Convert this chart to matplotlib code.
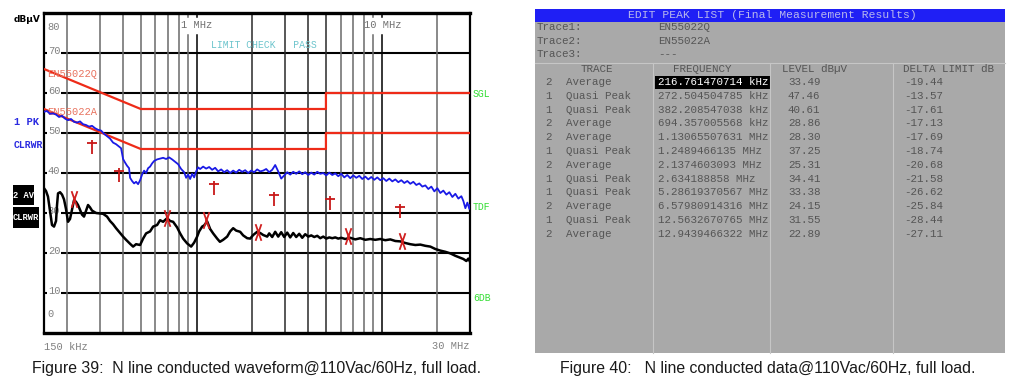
import matplotlib.pyplot as plt
from matplotlib.path import Path
from matplotlib.patches import Rectangle

# limit lines (EN55022 class B), frequency in MHz, level in dBuV
limit_q_freq = [0.15, 0.5, 5.0, 5.0, 30.0]
limit_q_level = [66, 56, 56, 60, 60]
limit_a_freq = [0.15, 0.5, 5.0, 5.0, 30.0]
limit_a_level = [56, 46, 46, 50, 50]

# trace 1: peak detector (blue)
pk_freq = [0.1500, 0.1557, 0.1616, 0.1678, 0.1742, 0.1808, 0.1877, 0.1948, 0.2022, 0.2099,
           0.2179, 0.2262, 0.2348, 0.2437, 0.2530, 0.2626, 0.2726, 0.2830, 0.2938, 0.3050,
           0.3166, 0.3286, 0.3411, 0.3541, 0.3676, 0.3816,
           0.3912, 0.4011, 0.4112, 0.4216, 0.4321, 0.4376, 0.4486, 0.4599, 0.4715, 0.4834,
           0.4956, 0.5081, 0.5209, 0.5340, 0.5475, 0.5613, 0.5755, 0.5900, 0.6125, 0.6357,
           0.6599, 0.6850, 0.7111, 0.7381, 0.7662, 0.7953, 0.8256, 0.8571, 0.8787, 0.9008,
           0.9235, 0.9468, 0.9707, 0.9952, 1.0202,
           1.0459, 1.0857, 1.1270, 1.1699, 1.2144, 1.2606, 1.3086, 1.3584, 1.4101, 1.4637,
           1.5194, 1.5772, 1.6372, 1.6995, 1.7642, 1.8313, 1.9010, 1.9733, 2.0484, 2.1264,
           2.2073, 2.2913, 2.3785, 2.4690, 2.5629, 2.6604, 2.7617, 2.8668, 2.9759, 3.0891,
           3.2066, 3.3286, 3.4553, 3.5867, 3.7232, 3.8649, 4.0119, 4.1646, 4.3230, 4.4875,
           4.6583, 4.8355, 5.0195, 5.2105, 5.4087, 5.6145,
           5.8281, 6.0499, 6.2801, 6.5190, 6.7671, 7.0245, 7.2918, 7.5693, 7.8573, 8.1562,
           8.4666, 8.7887, 9.1231, 9.4703, 9.8306, 10.205, 10.593, 10.996, 11.414, 11.849,
           12.299, 12.767, 13.253, 13.757, 14.281, 14.824, 15.388, 15.974, 16.582, 17.213,
           17.867, 18.547, 19.253, 19.985, 20.746, 21.535, 22.355, 23.205, 24.088, 25.005,
           25.956, 26.944,
           27.62, 28.32, 29.03, 29.76, 30.0]
pk_level = [55.3, 55.5, 54.8, 54.9, 54.6, 54.0, 54.3, 53.6, 53.2, 53.5,
            52.8, 52.6, 52.9, 52.2, 52.0, 51.6, 51.8, 51.2, 50.8, 50.6,
            49.8, 49.2, 48.6, 47.6, 47.2, 46.6,
            46.2, 43.5, 42.6, 41.8, 41.2, 38.8, 38.0, 37.4, 37.8, 37.2,
            38.2, 39.6, 40.6, 40.0, 41.2, 41.6, 42.4, 43.0, 43.4, 43.6,
            43.8, 43.5, 43.9, 43.4, 42.8, 42.2, 41.0, 40.2, 38.8, 39.6,
            38.5, 39.8, 38.9, 40.4, 41.4,
            41.0, 41.6, 41.1, 41.5, 40.8, 41.3, 40.4, 40.9, 40.2, 40.7,
            40.0, 40.6, 40.1, 40.8, 40.3, 40.7, 40.0, 40.6, 40.2, 40.9,
            40.4, 40.6, 41.0, 40.2, 40.8, 42.0, 40.4, 38.6, 39.4, 40.2,
            39.6, 40.3, 39.8, 40.4, 39.7, 40.2, 39.5, 40.1, 39.6, 40.3,
            39.8, 40.0, 39.4, 40.1, 39.5, 39.9,
            39.2, 39.8, 38.9, 39.5, 38.7, 39.4, 38.8, 39.3, 38.5, 39.1,
            38.4, 39.0, 38.3, 38.9, 38.2, 38.7, 38.0, 38.6, 37.9, 38.4,
            37.7, 38.2, 37.5, 38.0, 37.3, 37.8, 37.0, 37.4, 36.6, 36.9,
            36.0, 36.6, 35.4, 36.2, 35.0, 35.6, 34.6, 35.2, 34.0, 34.8,
            33.6, 34.2,
            33.0, 31.2, 32.6, 31.0, 32.0]

# trace 2: average detector (black)
av_freq = [0.1500, 0.1538, 0.1576, 0.1616, 0.1657, 0.1699, 0.1742, 0.1764, 0.1786, 0.1831,
           0.1877, 0.1924, 0.1972, 0.2022, 0.2073, 0.2125, 0.2179, 0.2234, 0.2290, 0.2348,
           0.2407, 0.2467, 0.2530, 0.2594, 0.2659, 0.2726, 0.2795, 0.2865, 0.3012, 0.3127,
           0.3286, 0.3411, 0.3541, 0.3676, 0.3864, 0.4011, 0.4163, 0.4376, 0.4543, 0.4715,
           0.4956, 0.5145, 0.5340, 0.5613, 0.5827, 0.6125, 0.6357, 0.6599, 0.6936, 0.7200,
           0.7474, 0.7855, 0.8154, 0.8465, 0.8897, 0.9351, 0.9707, 1.0076, 1.0329, 1.0723,
           1.0993, 1.1411, 1.1846, 1.2296, 1.2924, 1.3375, 1.3926, 1.4637, 1.5194, 1.5772,
           1.6372, 1.7207, 1.7862, 1.8775, 1.9489, 2.0230, 2.1264, 2.2073, 2.2913, 2.4082,
           2.4690, 2.5629, 2.6604, 2.7617, 2.8668, 2.9759, 3.0891, 3.2066, 3.3286, 3.4553,
           3.5867, 3.7232, 3.8649, 4.0119, 4.1646, 4.3230, 4.4875, 4.6583, 4.8355, 5.0195,
           5.2105, 5.4087, 5.6145, 5.8281, 6.0499, 6.3567, 6.7671, 7.2015, 7.6641, 8.1562,
           8.680, 9.2373, 9.8306, 10.462, 11.133, 11.849, 12.609, 13.419, 14.281, 15.198,
           16.174, 17.213, 18.317, 19.494, 20.746, 22.078, 23.495, 25.005, 26.611, 27.62,
           28.67, 29.39, 30.0]
av_level = [36.2, 35.5, 34.1, 30.5, 27.0, 26.6, 28.0, 32.0, 34.9, 35.2,
            34.6, 33.4, 31.0, 27.8, 28.5, 30.8, 33.2, 32.8, 32.0, 30.8,
            29.6, 29.1, 30.6, 32.0, 31.4, 30.6, 30.3, 30.0, 29.9, 29.8,
            29.1, 28.0, 27.2, 26.2, 25.0, 24.1, 23.3, 22.3, 21.6, 22.2,
            22.0, 23.6, 24.9, 25.4, 26.6, 27.0, 28.2, 27.8, 28.7, 28.0,
            27.8, 26.4, 24.9, 23.6, 22.4, 21.6, 22.6, 24.1, 25.4, 26.6,
            26.9, 27.9, 26.0, 24.9, 23.6, 22.8, 23.3, 24.1, 25.4, 26.2,
            25.6, 25.3, 24.4, 23.7, 23.6, 24.5, 25.3, 25.0, 24.5, 24.1,
            24.9, 24.0, 25.3, 24.1, 25.2, 24.0, 25.1, 23.9, 25.0, 24.0,
            24.8, 23.8, 24.7, 24.1, 24.4, 24.0, 24.3, 23.7, 24.1, 23.6,
            23.9, 23.7, 23.9, 23.6, 23.8, 23.5, 23.8, 23.4, 23.7, 23.3,
            23.5, 23.3, 23.5, 23.2, 23.4, 23.0, 22.9, 22.5, 22.2, 22.0,
            22.1, 21.8, 21.6, 21.0, 20.6, 20.3, 19.9, 19.3, 18.8, 18.5,
            18.0, 18.6, 17.8]

# peak list (right-hand table)
peak_trace = [2, 1, 1, 2, 2, 1, 2, 1, 1, 2, 1, 2]
peak_detector = ['Average', 'Quasi Peak', 'Quasi Peak', 'Average', 'Average', 'Quasi Peak',
                 'Average', 'Quasi Peak', 'Quasi Peak', 'Average', 'Quasi Peak', 'Average']
peak_freq = ['216.761470714 kHz', '272.504504785 kHz', '382.208547038 kHz', '694.357005568 kHz',
             '1.13065507631 MHz', '1.2489466135 MHz', '2.1374603093 MHz', '2.634188858 MHz',
             '5.28619370567 MHz', '6.57980914316 MHz', '12.5632670765 MHz', '12.9439466322 MHz']
peak_level = [33.49, 47.46, 40.61, 28.86, 28.30, 37.25, 25.31, 34.41, 33.38, 24.15, 31.55, 22.89]
peak_delta = [-19.44, -13.57, -17.61, -17.13, -17.69, -18.74, -20.68, -21.58, -26.62, -25.84, -28.44, -27.11]

grid_freq = [0.2, 0.3, 0.4, 0.5, 0.6, 0.7, 0.8, 0.9, 1, 2, 3, 4, 5, 6, 7, 8, 9, 10, 20]
grid_level = [10, 20, 30, 40, 50, 60, 70]


def to_mhz(s):
    val, unit = s.split()
    return float(val) / 1000 if unit == 'kHz' else float(val)


MONO = 'Liberation Mono'
W, H = 1009, 387
fig = plt.figure(figsize=(W / 100, H / 100), dpi=100)

# overlay in pixel coordinates for side labels, table and captions
ov = fig.add_axes([0, 0, 1, 1])
ov.set_xlim(0, W)
ov.set_ylim(H, 0)
ov.axis('off')

ax = fig.add_axes([44 / W, 1 - 333 / H, 426 / W, 320 / H])
ax.set_xscale('log')
ax.set_xlim(0.15, 30)
ax.set_ylim(0, 80)
ax.tick_params(which='both', length=0, labelbottom=False, labelleft=False)
for side in ['top', 'bottom']:
    ax.spines[side].set_linewidth(2.4)
for side in ['left', 'right']:
    ax.spines[side].set_linewidth(1.6)

for v in grid_level:
    ax.axhline(v, color='black', lw=1.5, zorder=1)
for f in grid_freq:
    c = 'black' if f in (1, 10) else ('#2a2a2a' if 2 <= f <= 5 else '#6a6a6a')
    if f in (0.9, 1, 9, 10):
        # gap for the "1 MHz" / "10 MHz" labels
        ax.axvline(f, ymax=74.5 / 80, color=c, lw=1.1, zorder=1)
        ax.axvline(f, ymin=79 / 80, color=c, lw=1.1, zorder=1)
    else:
        ax.axvline(f, color=c, lw=1.1, zorder=1)

for v in grid_level:
    ax.text(0.009, v + 0.4, str(v), transform=ax.get_yaxis_transform(), ha='left', va='center',
            fontsize=7.5, family=MONO, color='#808080', zorder=2,
            bbox=dict(fc='white', ec='none', pad=0.6))
ax.text(0.009, 76.6, '80', transform=ax.get_yaxis_transform(), ha='left', va='center',
        fontsize=7.5, family=MONO, color='#808080')
ax.text(0.009, 4.75, '0', transform=ax.get_yaxis_transform(), ha='left', va='center',
        fontsize=7.5, family=MONO, color='#808080')
ax.text(1.0, 77, '1 MHz', ha='center', va='center', fontsize=7.5, family=MONO, color='#707070')
ax.text(10.1, 77, '10 MHz', ha='center', va='center', fontsize=7.5, family=MONO, color='#707070')
ax.text(1.19, 72, 'LIMIT CHECK   PASS', ha='left', va='center', fontsize=7, family=MONO,
        color='#6cc4cc')

ax.plot(limit_q_freq, limit_q_level, color='#ee2b18', lw=1.6, zorder=3)
ax.plot(limit_a_freq, limit_a_level, color='#ee2b18', lw=1.6, zorder=3)
ax.text(0.156, 64.8, 'EN55022Q', fontsize=7.5, family=MONO, color='#e8735f', va='center', zorder=3)
ax.text(0.156, 55.2, 'EN55022A', fontsize=7.5, family=MONO, color='#e8735f', va='center', zorder=3)

ax.plot(pk_freq, pk_level, color='#1a1ae6', lw=1.3, zorder=4)
ax.plot(av_freq, av_level, color='black', lw=1.8, zorder=4)

plus_marker = Path([(-0.45, 0), (0.45, 0), (0, 0.3), (0, -1)],
                   [Path.MOVETO, Path.LINETO, Path.MOVETO, Path.LINETO])
x_marker = Path([(-0.35, -1), (0.35, 1), (-0.35, 1), (0.35, -1)],
                [Path.MOVETO, Path.LINETO, Path.MOVETO, Path.LINETO])
qp_f = [to_mhz(s) for s, t in zip(peak_freq, peak_trace) if t == 1]
qp_l = [lv for lv, t in zip(peak_level, peak_trace) if t == 1]
av_f = [to_mhz(s) for s, t in zip(peak_freq, peak_trace) if t == 2]
av_l = [lv for lv, t in zip(peak_level, peak_trace) if t == 2]
ax.plot(qp_f, qp_l, ls='none', marker=plus_marker, ms=16, mew=1.3, mfc='none', color='#c81818', zorder=5)
ax.plot(av_f, av_l, ls='none', marker=x_marker, ms=12, mew=1.3, mfc='none', color='#d02020', zorder=5)

# labels around the analyser plot
ov.text(14, 20, 'dBµV', fontsize=6.5, fontweight='bold', color='black', va='center')
ov.text(14, 122, '1 PK', fontsize=7.5, family=MONO, fontweight='bold', color='#2a2ae0', va='center')
ov.text(14, 145, 'CLRWR', fontsize=7, family=MONO, fontweight='bold', color='#2a2ae0', va='center')
ov.add_patch(Rectangle((13, 185), 21, 20, fc='black', ec='none'))
ov.text(23.5, 195, '2 AV', fontsize=6.3, family=MONO, fontweight='bold', color='white',
        va='center', ha='center')
ov.add_patch(Rectangle((13, 207), 26, 21, fc='black', ec='none'))
ov.text(26, 218, 'CLRWR', fontsize=6.3, family=MONO, fontweight='bold', color='white',
        va='center', ha='center')
for lab, yy in [('SGL', 94), ('TDF', 207), ('6DB', 298)]:
    ov.text(473, yy, lab, fontsize=7, family=MONO, color='#33dd33', va='center')
ov.text(44, 347, '150 kHz', fontsize=7.5, family=MONO, color='#808080', va='center')
ov.text(469, 346, '30 MHz', fontsize=7.5, family=MONO, color='#808080', va='center', ha='right')

# peak list screen
tc = '#555555'
ov.add_patch(Rectangle((535, 9), 470, 344, fc='#a9a9a9', ec='none'))
ov.add_patch(Rectangle((535, 9), 470, 13, fc='#1f1ff5', ec='none'))
ov.text(772, 15.5, 'EDIT PEAK LIST (Final Measurement Results)', ha='center', va='center',
        fontsize=8.2, family=MONO, color='#b8b8ec')
ov.plot([535, 1005], [63, 63], color='#c6c6c6', lw=0.8)
for xc in [653, 770, 893]:
    ov.plot([xc, xc], [63, 353], color='#c6c6c6', lw=0.8)
for i, (name, val) in enumerate([('Trace1:', 'EN55022Q'), ('Trace2:', 'EN55022A'), ('Trace3:', '---')]):
    ov.text(537, 27 + i * 13.5, name, fontsize=7.8, family=MONO, color=tc, va='center')
    ov.text(658, 27 + i * 13.5, val, fontsize=7.8, family=MONO, color=tc, va='center')
ov.text(597, 69, 'TRACE', fontsize=7.8, family=MONO, color=tc, va='center', ha='center')
ov.text(702, 69, 'FREQUENCY', fontsize=7.8, family=MONO, color=tc, va='center', ha='center')
ov.text(782, 69, 'LEVEL dBµV', fontsize=7.8, family=MONO, color=tc, va='center')
ov.text(903, 69, 'DELTA LIMIT dB', fontsize=7.8, family=MONO, color=tc, va='center')
for i in range(len(peak_freq)):
    yy = 82 + i * 13.8
    fcol = tc
    if i == 0:
        ov.add_patch(Rectangle((655, yy - 6.5), 115, 13, fc='black', ec='none'))
        fcol = 'white'
    ov.text(545, yy, str(peak_trace[i]), fontsize=7.8, family=MONO, color=tc, va='center')
    ov.text(566, yy, peak_detector[i], fontsize=7.8, family=MONO, color=tc, va='center')
    ov.text(658, yy, peak_freq[i], fontsize=7.8, family=MONO, color=fcol, va='center')
    ov.text(788, yy, f'{peak_level[i]:.2f}', fontsize=7.8, family=MONO, color=tc, va='center')
    ov.text(904, yy, f'{peak_delta[i]:.2f}', fontsize=7.8, family=MONO, color=tc, va='center')

# captions
ov.text(256, 369, 'Figure 39:  N line conducted waveform@110Vac/60Hz, full load.', ha='center',
        va='center', fontsize=11.4, family='Liberation Sans', color='#1a1a1a')
ov.text(768, 369, 'Figure 40:   N line conducted data@110Vac/60Hz, full load.', ha='center',
        va='center', fontsize=11.4, family='Liberation Sans', color='#1a1a1a')

fig.savefig('out.png', dpi=100)
